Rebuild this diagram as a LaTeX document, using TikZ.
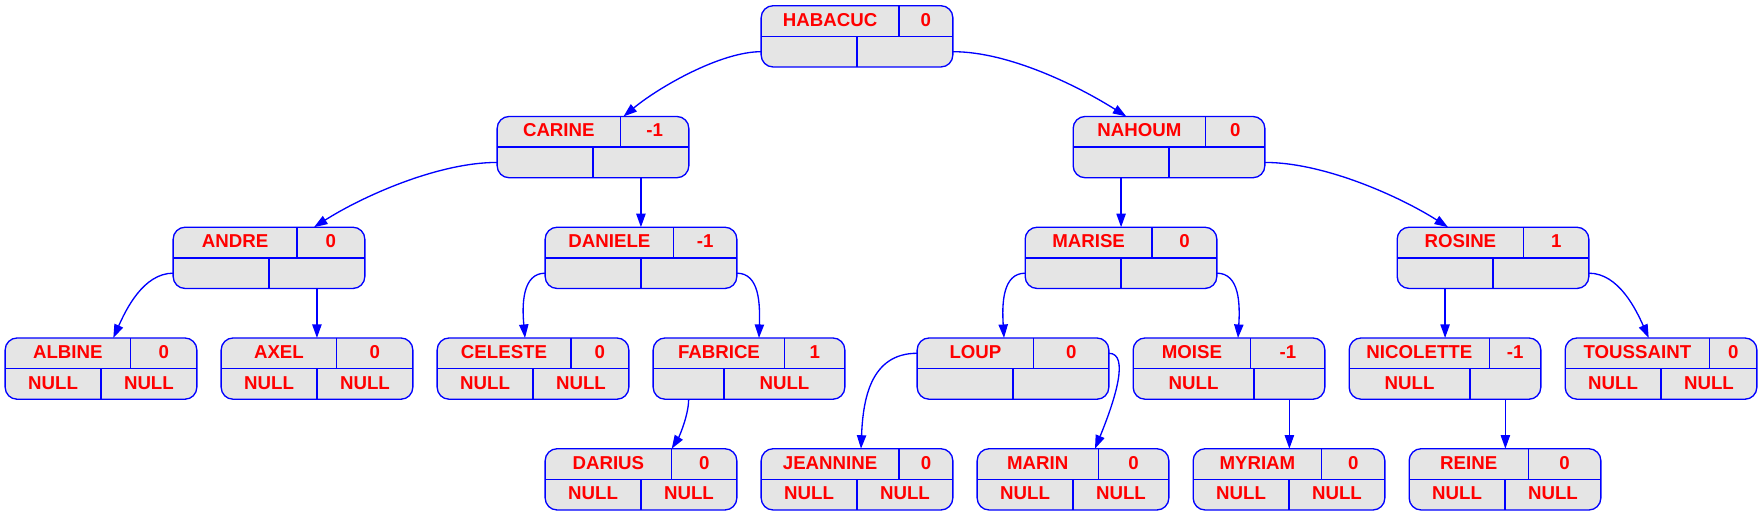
\documentclass[tikz,border=0pt]{standalone}
\usepackage{fontspec}
\setmainfont{Liberation Sans}
\usetikzlibrary{arrows.meta,calc}
\definecolor{recfill}{HTML}{E5E5E5}
\newcommand\recfont{\fontsize{18.67}{22}\selectfont\bfseries}
\newlength\recwa \newlength\recwb \newlength\recwc \newlength\recwd
\tikzset{
  rec/.style={draw=blue, fill=recfill, rounded corners=12pt, minimum width=191.7pt,
    minimum height=61.3pt, inner sep=0pt, outer sep=0pt, line width=1.33pt},
  recline/.style={draw=blue, line width=1.33pt},
  rectxt/.style={anchor=base, inner sep=0pt, text=red, font=\recfont},
  measure/.style={inner sep=0pt, font=\recfont},
  edge/.style={draw=blue, line width=1.33pt, -{Triangle[length=13.5pt,width=9.3pt]}}
}
% id, x, y(center), name, balance, bottom-left, bottom-right
\newcommand\record[7]{%
  \path (#2,#3) node[measure] (#1-m) {%
    \settowidth\recwa{#4}\global\recwa=\recwa
    \settowidth\recwb{#5}\global\recwb=\recwb
    \settowidth\recwc{#6}\global\recwc=\recwc
    \settowidth\recwd{#7}\global\recwd=\recwd};
  \pgfmathsetmacro\rdt{(\recwa-\recwb)/2}%
  \pgfmathsetmacro\rdb{(\recwc-\recwd)/2}%
  \pgfmathsetmacro\rxa{#2+(\rdt-95.85)/2}%
  \pgfmathsetmacro\rxb{#2+(\rdt+95.85)/2}%
  \pgfmathsetmacro\rxc{#2+(\rdb-95.85)/2}%
  \pgfmathsetmacro\rxd{#2+(\rdb+95.85)/2}%
  \pgfmathsetmacro\rya{#3-10.2}%
  \pgfmathsetmacro\ryb{#3+20.4}%
  \pgfmathsetmacro\ryc{#3+30.65}%
  \node[rec] (#1) at (#2,#3) {};
  \draw[recline] ($(#1.north)+(\rdt,0)$) -- ($(#1.center)+(\rdt,0)$);
  \draw[recline] (#1.west) -- (#1.east);
  \draw[recline] ($(#1.center)+(\rdb,0)$) -- ($(#1.south)+(\rdb,0)$);
  \node[rectxt] (#1-a) at (\rxa,\rya) {#4};
  \node[rectxt] (#1-b) at (\rxb,\rya) {#5};
  \node[rectxt] (#1-c) at (\rxc,\ryb) {#6};
  \node[rectxt] (#1-d) at (\rxd,\ryb) {#7};
  \coordinate (#1-L) at ($(#1.west)+(0,15.33)$);
  \coordinate (#1-R) at ($(#1.east)+(0,15.33)$);
  \coordinate (#1-TL) at ($(#1.west)+(0,-15.33)$);
  \coordinate (#1-TR) at ($(#1.east)+(0,-15.33)$);
  \coordinate (#1-BL) at (\rxc,\ryc);
  \coordinate (#1-BR) at (\rxd,\ryc);
}
\begin{document}
\begin{tikzpicture}[x=1pt,y=-1pt]
\useasboundingbox (0,0) rectangle (1763,516);
% row 1
\record{HAB}{857}{36.35}{HABACUC}{0}{}{}
% row 2
\record{CAR}{593}{147.1}{CARINE}{-1}{}{}
\record{NAH}{1169}{147.1}{NAHOUM}{0}{}{}
% row 3
\record{AND}{269}{257.85}{ANDRE}{0}{}{}
\record{DAN}{641}{257.85}{DANIELE}{-1}{}{}
\record{MAR}{1121}{257.85}{MARISE}{0}{}{}
\record{ROS}{1493}{257.85}{ROSINE}{1}{}{}
% row 4
\record{ALB}{101}{368.6}{ALBINE}{0}{NULL}{NULL}
\record{AXE}{317}{368.6}{AXEL}{0}{NULL}{NULL}
\record{CEL}{533}{368.6}{CELESTE}{0}{NULL}{NULL}
\record{FAB}{749}{368.6}{FABRICE}{1}{}{NULL}
\record{LOU}{1013}{368.6}{LOUP}{0}{}{}
\record{MOI}{1229}{368.6}{MOISE}{-1}{NULL}{}
\record{NIC}{1445}{368.6}{NICOLETTE}{-1}{NULL}{}
\record{TOU}{1661}{368.6}{TOUSSAINT}{0}{NULL}{NULL}
% row 5
\record{DAR}{641}{479.35}{DARIUS}{0}{NULL}{NULL}
\record{JEA}{857}{479.35}{JEANNINE}{0}{NULL}{NULL}
\record{MRN}{1073}{479.35}{MARIN}{0}{NULL}{NULL}
\record{MYR}{1289}{479.35}{MYRIAM}{0}{NULL}{NULL}
\record{REI}{1505}{479.35}{REINE}{0}{NULL}{NULL}
% edges
\draw[edge] (HAB-L) .. controls +(-41,0) and +(34.7,-28.8) .. ($(CAR.north)+(30.5,0)$);
\draw[edge] (HAB-R) .. controls +(57,0) and +(-46.5,-29.4) .. ($(NAH.north)+(-42.7,0)$);
\draw[edge] (CAR-L) .. controls +(-60,0) and +(47,-30) .. ($(AND.north)+(45,0)$);
\draw[edge] (CAR-BR) -- (CAR-BR |- DAN.north);
\draw[edge] (NAH-BL) -- (NAH-BL |- MAR.north);
\draw[edge] (NAH-R) .. controls +(60,0) and +(-47,-30) .. ($(ROS.north)+(-45,0)$);
\draw[edge] (AND-L) .. controls +(-30,0) and +(12.3,-27.5) .. ($(ALB.north)+(12.3,0)$);
\draw[edge] (AND-BR) -- (AND-BR |- AXE.north);
\draw[edge] (DAN-L) .. controls +(-23,0) and +(-3,-33) .. ($(CEL.north)+(-8,0)$);
\draw[edge] (DAN-R) .. controls +(23,0) and +(1,-33) .. ($(FAB.north)+(10,0)$);
\draw[edge] (MAR-L) .. controls +(-23,0) and +(-2,-33) .. ($(LOU.north)+(-9,0)$);
\draw[edge] (MAR-R) .. controls +(23,0) and +(2,-33) .. ($(MOI.north)+(9,0)$);
\draw[edge] (ROS-BL) -- (ROS-BL |- NIC.north);
\draw[edge] (ROS-R) .. controls +(30,0) and +(-12.3,-27.5) .. ($(TOU.north)+(-12.3,0)$);
\draw[edge] (FAB-BL) .. controls +(0,16) and +(7.4,-11.9) .. ($(DAR.north)+(30.7,0)$);
\draw[edge] (LOU-TL) .. controls +(-47,0) and +(2,-48.7) .. ($(JEA.north)+(4,0)$);
\draw[edge] (LOU-TR) .. controls +(21,0) and +(20,-48.7) .. ($(MRN.north)+(22,0)$);
\draw[edge] (MOI-BR) -- (MOI-BR |- MYR.north);
\draw[edge] (NIC-BR) -- (NIC-BR |- REI.north);
\end{tikzpicture}
\end{document}
